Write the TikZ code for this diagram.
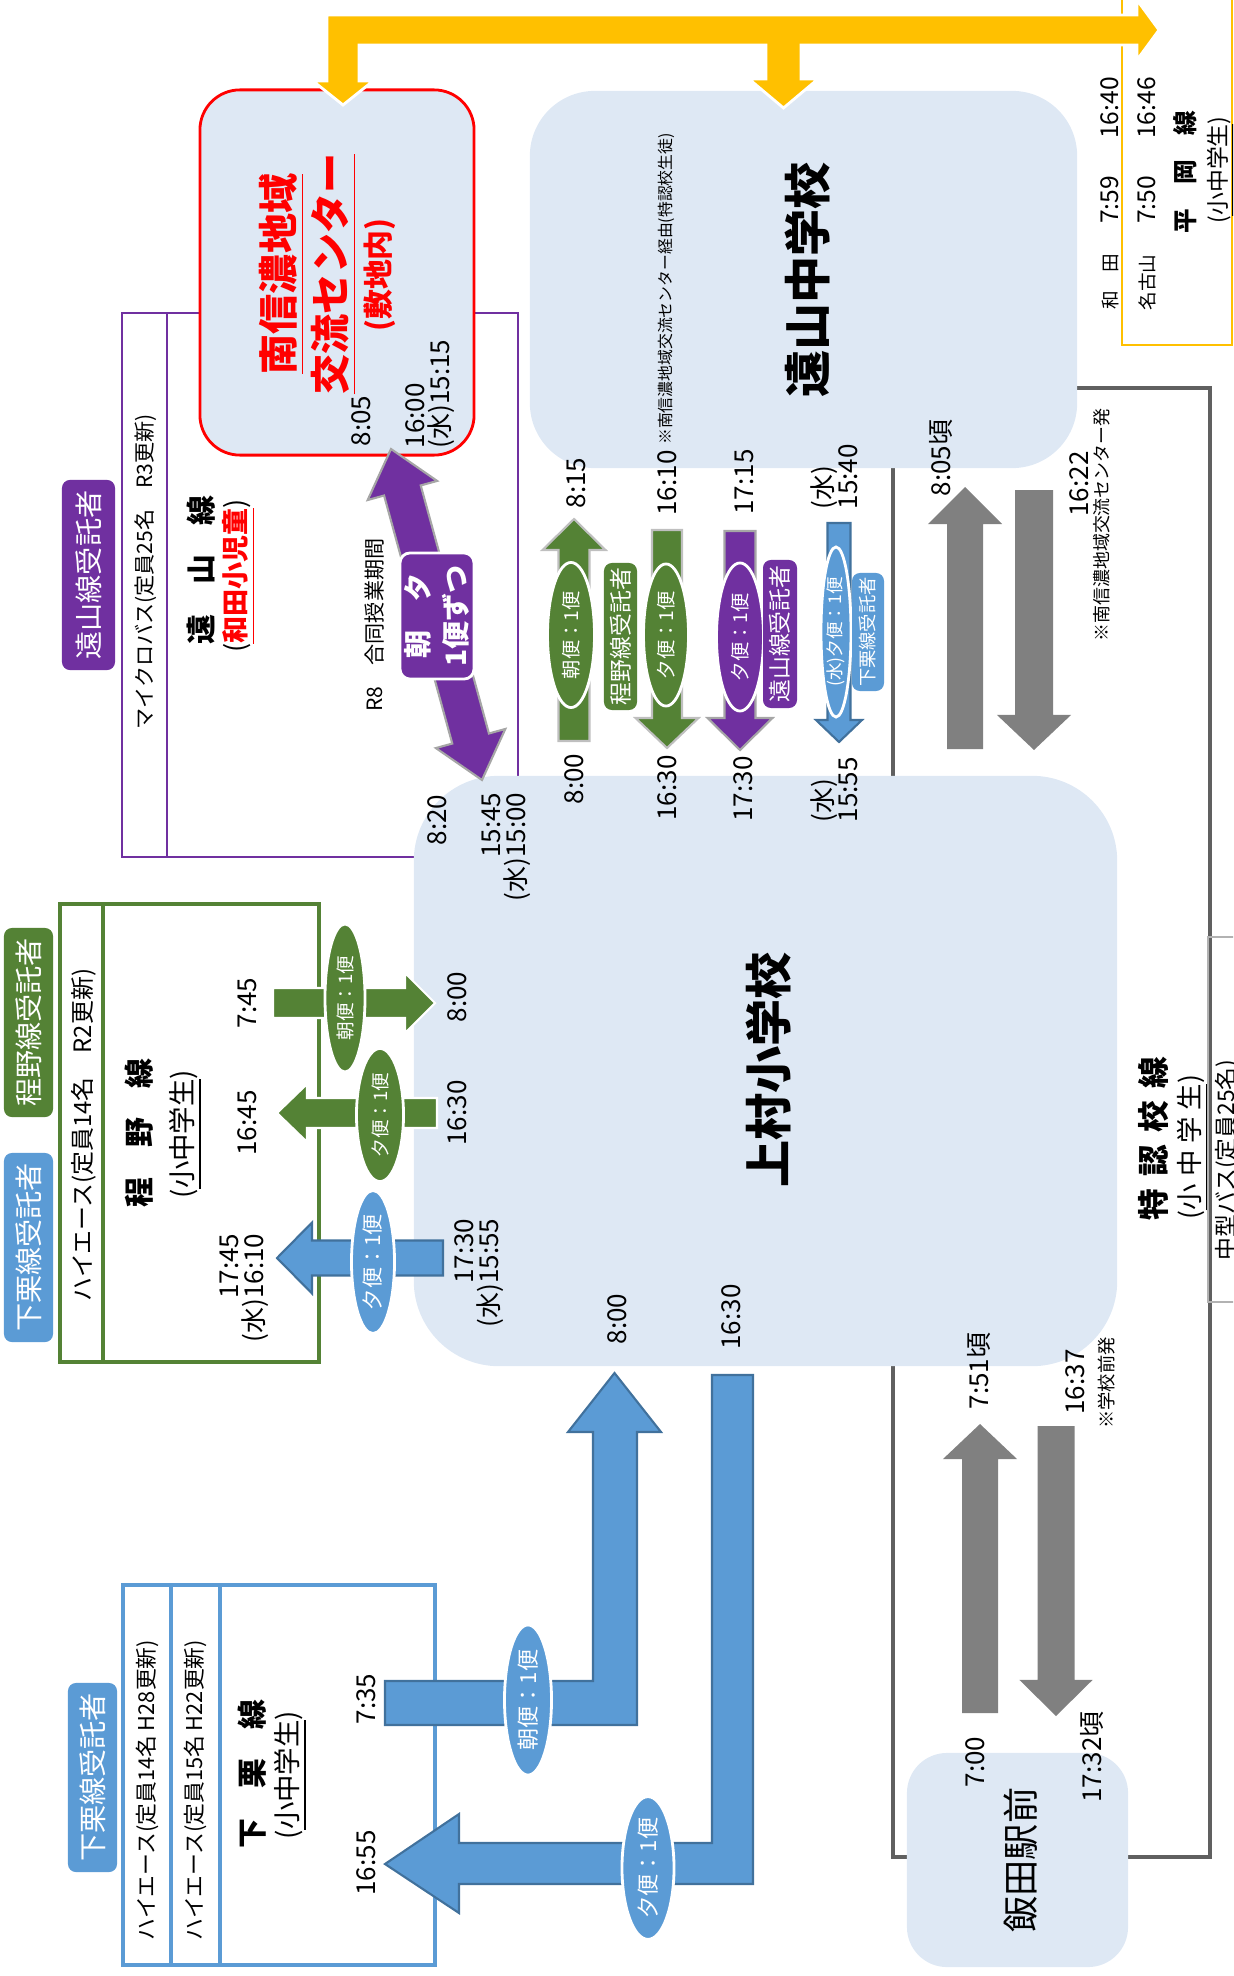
\documentclass[tikz,border=0pt]{standalone}
\usepackage{fontspec}
\setmainfont{Noto Sans CJK JP}
\usetikzlibrary{calc,shapes.geometric}

\definecolor{kfill}{HTML}{DEE8F4}
\definecolor{kgreen}{HTML}{548235}
\definecolor{kpurple}{HTML}{7030A0}
\definecolor{kblue}{HTML}{5B9BD5}
\definecolor{kblueline}{HTML}{41719C}
\definecolor{kyellow}{HTML}{FFC000}
\definecolor{kgray}{HTML}{808080}
\definecolor{kframe}{HTML}{606060}

\newcommand{\tfont}{\fontsize{7.4}{7.1}\selectfont}

% block arrow: style, tail, tip, half shaft, half head, head length
\newcommand{\blockarrow}[6]{%
  \coordinate (ab) at ($(#3)!#6!(#2)$);
  \path[#1] ($(#2)!#4!90:(#3)$) -- ($(ab)!#4!90:(#3)$) -- ($(ab)!#5!90:(#3)$) -- (#3)
    -- ($(ab)!#5!-90:(#3)$) -- ($(ab)!#4!-90:(#3)$) -- ($(#2)!#4!-90:(#3)$) -- cycle;}
\newcommand{\twowayarrow}[6]{%
  \coordinate (ab1) at ($(#2)!#6!(#3)$);
  \coordinate (ab2) at ($(#3)!#6!(#2)$);
  \path[#1] (#2) -- ($(ab1)!#5!90:(#3)$) -- ($(ab1)!#4!90:(#3)$) -- ($(ab2)!#4!90:(#3)$)
    -- ($(ab2)!#5!90:(#3)$) -- (#3) -- ($(ab2)!#5!-90:(#3)$) -- ($(ab2)!#4!-90:(#3)$)
    -- ($(ab1)!#4!-90:(#3)$) -- ($(ab1)!#5!-90:(#3)$) -- cycle;}

\begin{document}
\begin{tikzpicture}[x=0.01cm, y=-0.01cm,
  lbl/.style={rotate=90, inner sep=0pt, align=center, font=\tfont},
  school/.style={fill=kfill, inner sep=0pt},
  tag/.style={rotate=90, inner sep=0pt, rounded corners=0.08cm, text=white},
  trip/.style={ellipse, rotate=90, inner sep=0pt, draw=white, line width=0.8pt, text=white},
  garrowv/.style={fill=kgreen, draw=gray!50, line width=0.6pt},
  garrowh/.style={fill=kgreen, draw=white, line width=0.6pt},
  parrow/.style={fill=kpurple, draw=gray!70, line width=0.6pt},
  barrow/.style={fill=kblue, draw=kblueline, line width=0.6pt},
  grarrow/.style={fill=kgray}]

  \useasboundingbox (0,0) rectangle (1233,1976);
  \clip (0,0) rectangle (1233,1976);

  % --- frames of the bus lines ---
  \draw[kpurple, line width=0.7pt] (122,313) rectangle (518,857);
  \draw[kpurple, line width=0.7pt] (167,313) -- (167,857);
  \draw[kgreen, line width=0.9pt] (60,904) rectangle (319,1362);
  \draw[kgreen, line width=0.9pt] (103,904) -- (103,1362);
  \draw[kblue, line width=0.9pt] (123,1585) rectangle (435,1965);
  \draw[kblue, line width=1.1pt] (171,1585) rectangle (220,1965);
  \draw[kframe, line width=0.9pt] (893,388) rectangle (1210,1857);
  \draw[gray!60, line width=0.6pt] (1208,937) rectangle (1260,1302);
  \draw[kyellow, line width=0.8pt] (1122,-10) rectangle (1232,345);

  % --- schools ---
  \node[school, minimum width=2.74cm, minimum height=3.65cm, rounded corners=0.4cm,
    draw=red, line width=0.8pt] (center) at (337,272.5) {};
  \node[school, minimum width=5.47cm, minimum height=3.77cm, rounded corners=0.65cm]
    (toyamachu) at (803.5,279.5) {};
  \node[school, minimum width=7.03cm, minimum height=5.9cm, rounded corners=0.85cm]
    (kamimura) at (765.5,1071) {};
  \node[school, minimum width=2.21cm, minimum height=2.14cm, rounded corners=0.4cm]
    (iida) at (1017.5,1860) {};

  % --- Hiraoka line (yellow) ---
  \path[fill=kyellow, draw=white, line width=0.8pt] (327,15) -- (1137,15) -- (1137,0)
    -- (1159,30) -- (1137,60) -- (1137,45) -- (801,45) -- (801,79) -- (818,79)
    -- (783.5,108) -- (749,79) -- (766,79) -- (766,45) -- (359,45) -- (359,81)
    -- (373,81) -- (343,105) -- (313,81) -- (327,81) -- cycle;

  % --- Shimoguri line (blue L arrows) ---
  \path[barrow] (385,1681) -- (593,1681) -- (593,1432) -- (568,1432) -- (614.5,1373)
    -- (661,1432) -- (637,1432) -- (637,1725) -- (385,1725) -- cycle;
  \path[barrow] (712,1375) -- (753,1375) -- (753,1884) -- (459,1884) -- (459,1913)
    -- (385,1864) -- (459,1814) -- (459,1843) -- (712,1843) -- cycle;

  % --- straight arrows ---
  \coordinate (g1t) at (574,741);  \coordinate (g1h) at (574,519);
  \coordinate (g2t) at (667,530);  \coordinate (g2h) at (667,748);
  \coordinate (p1t) at (740,531);  \coordinate (p1h) at (740,750);
  \coordinate (b1t) at (839,523);  \coordinate (b1h) at (839,742);
  \coordinate (k1t) at (965,749);  \coordinate (k1h) at (965,487);
  \coordinate (k2t) at (1034,490); \coordinate (k2h) at (1034,750);
  \coordinate (k3t) at (980,1713); \coordinate (k3h) at (980,1424);
  \coordinate (k4t) at (1056,1426); \coordinate (k4h) at (1056,1716);
  \coordinate (g3t) at (273,1003); \coordinate (g3h) at (435,1003);
  \coordinate (g4t) at (437,1113); \coordinate (g4h) at (277,1113);
  \coordinate (b2t) at (443,1258); \coordinate (b2h) at (277,1258);
  \coordinate (pa) at (391,449);   \coordinate (pb) at (482,780);

  \blockarrow{garrowv}{g1t}{g1h}{0.155cm}{0.315cm}{0.31cm}
  \blockarrow{garrowv}{g2t}{g2h}{0.15cm}{0.315cm}{0.30cm}
  \blockarrow{parrow}{p1t}{p1h}{0.155cm}{0.325cm}{0.32cm}
  \blockarrow{barrow}{b1t}{b1h}{0.115cm}{0.23cm}{0.22cm}
  \blockarrow{grarrow}{k1t}{k1h}{0.18cm}{0.37cm}{0.37cm}
  \blockarrow{grarrow}{k2t}{k2h}{0.19cm}{0.37cm}{0.35cm}
  \blockarrow{grarrow}{k3t}{k3h}{0.18cm}{0.37cm}{0.35cm}
  \blockarrow{grarrow}{k4t}{k4h}{0.185cm}{0.365cm}{0.36cm}
  \blockarrow{garrowh}{g3t}{g3h}{0.15cm}{0.30cm}{0.30cm}
  \blockarrow{garrowh}{g4t}{g4h}{0.15cm}{0.29cm}{0.30cm}
  \blockarrow{barrow}{b2t}{b2h}{0.175cm}{0.355cm}{0.35cm}
  \twowayarrow{parrow}{pa}{pb}{0.19cm}{0.36cm}{0.43cm}

  % --- trips ---
  \node[trip, fill=kgreen, minimum width=1.48cm, minimum height=0.40cm,
    font=\fontsize{5.3}{6}\selectfont] (e1) at (345,998) {朝便：1便};
  \node[trip, fill=kgreen, minimum width=1.33cm, minimum height=0.47cm,
    font=\fontsize{5.3}{6}\selectfont] (e2) at (380,1115) {夕便：1便};
  \node[trip, fill=kblue, minimum width=1.43cm, minimum height=0.43cm,
    font=\fontsize{6}{7}\selectfont] (e3) at (373,1262) {夕便：1便};
  \node[trip, fill=kgreen, minimum width=1.45cm, minimum height=0.47cm,
    font=\fontsize{5.5}{6}\selectfont] (e4) at (571,635) {朝便：1便};
  \node[trip, fill=kgreen, minimum width=1.42cm, minimum height=0.45cm,
    font=\fontsize{5.5}{6}\selectfont] (e5) at (666,635) {夕便：1便};
  \node[trip, fill=kpurple, minimum width=1.48cm, minimum height=0.47cm,
    font=\fontsize{5.5}{6}\selectfont] (e6) at (740,637) {夕便：1便};
  \node[trip, fill=kblue, minimum width=1.70cm, minimum height=0.30cm,
    font=\fontsize{5}{6}\selectfont] (e7) at (836,632) {(水)夕便：1便};
  \node[trip, fill=kblue, minimum width=1.50cm, minimum height=0.47cm,
    font=\fontsize{6.3}{7}\selectfont] (e8) at (528,1700) {朝便：1便};
  \node[trip, fill=kblue, minimum width=1.40cm, minimum height=0.52cm,
    font=\fontsize{6.3}{7}\selectfont] (e9) at (648,1868) {夕便：1便};

  % --- contractors ---
  \node[tag, fill=kpurple, minimum width=1.9cm, minimum height=0.53cm,
    font=\fontsize{8}{9}\selectfont] (tag-toyama) at (88.5,575) {遠山線受託者};
  \node[tag, fill=kgreen, minimum width=1.89cm, minimum height=0.49cm,
    font=\fontsize{8}{9}\selectfont] (tag-hodono) at (28.5,1022.5) {程野線受託者};
  \node[tag, fill=kblue, minimum width=1.89cm, minimum height=0.49cm,
    font=\fontsize{8}{9}\selectfont] (tag-shimo) at (28.5,1247.5) {下栗線受託者};
  \node[tag, fill=kblue, minimum width=1.89cm, minimum height=0.49cm,
    font=\fontsize{8}{9}\selectfont] (tag-shimo2) at (92.5,1777.5) {下栗線受託者};
  \node[tag, fill=kgreen, minimum width=1.47cm, minimum height=0.33cm,
    font=\fontsize{6.5}{7}\selectfont] (tag-hodono2) at (620.5,636.5) {程野線受託者};
  \node[tag, fill=kpurple, minimum width=1.48cm, minimum height=0.34cm,
    font=\fontsize{6.5}{7}\selectfont] (tag-toyama2) at (780,634) {遠山線受託者};
  \node[tag, fill=kblue, minimum width=1.18cm, minimum height=0.32cm,
    font=\fontsize{5.2}{6}\selectfont] (tag-shimo3) at (868,632) {下栗線受託者};
  \node[rotate=90, fill=kpurple, draw=white, line width=0.8pt, rounded corners=0.1cm,
    minimum width=1.26cm, minimum height=0.74cm, inner sep=0pt, align=center, text=white,
    font=\fontsize{8}{11}\selectfont\bfseries] (asayu) at (437,616) {朝　夕\\1便ずつ};

  % --- Minami Shinano center ---
  \node[lbl, text=red, font=\fontsize{11.4}{14.8}\selectfont\bfseries] (name-center)
    at (308,274) {\underline{南信濃地域}\\\underline{交流センター}};
  \node[lbl, text=red, font=\fontsize{8.5}{9}\selectfont\bfseries] (site) at (380,275) {(敷地内)};
  \node[lbl] (t805) at (361,421) {8:05};
  \node[lbl, anchor=west, align=left] (t1600) at (430,449) {16:00\\(水)15:15};

  % --- Toyama line ---
  \node[lbl, font=\fontsize{6}{7}\selectfont] (bus-toyama) at (146,572) {マイクロバス(定員25名　R3更新)};
  \node[lbl, font=\fontsize{8.5}{10}\selectfont\bfseries] (name-toyama) at (201,570) {遠　山　線};
  \node[lbl, font=\fontsize{7.7}{9}\selectfont] (kids-toyama) at (239,576)
    {(\textcolor{red}{\bfseries\underline{和田小児童}})};
  \node[lbl, font=\fontsize{6}{7}\selectfont] (r8) at (375,625) {R8　合同授業期間};

  % --- Toyama junior high ---
  \node[lbl, font=\fontsize{13.4}{15}\selectfont\bfseries] (name-toyamachu) at (808,280) {遠山中学校};
  \node[lbl, font=\fontsize{4.5}{5}\selectfont] (note-via) at (666,289) {※南信濃地域交流センター経由(特認校生徒)};
  \node[lbl] (t815) at (576,483) {8:15};
  \node[lbl] (t800a) at (574,779) {8:00};
  \node[lbl] (t1610) at (667,483) {16:10};
  \node[lbl] (t1630a) at (667,788) {16:30};
  \node[lbl] (t1715) at (744,482) {17:15};
  \node[lbl] (t1730a) at (743,789) {17:30};
  \node[lbl, anchor=west, align=left] (t1540) at (834,510) {(水)\\15:40};
  \node[lbl, anchor=west, align=left] (t1555) at (834,823) {(水)\\15:55};
  \node[lbl] (t820) at (437,820) {8:20};
  \node[lbl, anchor=east, align=right] (t1545) at (506.5,792) {15:45\\(水)15:00};

  % --- Hodono line ---
  \node[lbl, font=\fontsize{6.8}{7}\selectfont] (bus-hodono) at (84,1135) {ハイエース(定員14名　R2更新)};
  \node[lbl, font=\fontsize{8.5}{10}\selectfont\bfseries] (name-hodono) at (139,1133) {程　野　線};
  \node[lbl, font=\fontsize{7.8}{9}\selectfont] (kids-hodono) at (186,1134) {(\underline{小中学生})};
  \node[lbl] (t745) at (247,1003) {7:45};
  \node[lbl] (t1645) at (247,1123) {16:45};
  \node[lbl, anchor=east, align=right] (t1745) at (244.5,1233) {17:45\\(水)16:10};
  \node[lbl] (t800b) at (457,997) {8:00};
  \node[lbl] (t1630b) at (457,1113) {16:30};
  \node[lbl, anchor=east, align=right] (t1730b) at (479.5,1218) {17:30\\(水)15:55};

  % --- Shimoguri line ---
  \node[lbl, font=\fontsize{6.2}{7}\selectfont] (bus-shimo1) at (147,1790) {ハイエース(定員14名 H28更新)};
  \node[lbl, font=\fontsize{6.2}{7}\selectfont] (bus-shimo2) at (195,1790) {ハイエース(定員15名 H22更新)};
  \node[lbl, font=\fontsize{8.5}{10}\selectfont\bfseries] (name-shimo) at (252,1774) {下　栗　線};
  \node[lbl, font=\fontsize{7.8}{9}\selectfont] (kids-shimo) at (291,1775) {(\underline{小中学生})};
  \node[lbl] (t735) at (366,1699) {7:35};
  \node[lbl] (t1655) at (366,1863) {16:55};
  \node[lbl] (t800c) at (617,1319) {8:00};
  \node[lbl] (t1630c) at (731,1317) {16:30};

  % --- Kamimura elementary ---
  \node[lbl, font=\fontsize{13.4}{15}\selectfont\bfseries] (name-kamimura) at (769,1070) {上村小学校};

  % --- Tokunin line ---
  \node[lbl] (t805b) at (941,458) {8:05頃};
  \node[lbl] (t1622) at (1079,484) {16:22};
  \node[lbl, font=\fontsize{5.1}{6}\selectfont] (note-from) at (1102,525) {※南信濃地域交流センター発};
  \node[lbl] (t751) at (979,1371) {7:51頃};
  \node[lbl] (t1637) at (1075,1382) {16:37};
  \node[lbl, font=\fontsize{5.2}{6}\selectfont] (note-front) at (1107,1383) {※学校前発};
  \node[lbl] (t700) at (975,1762) {7:00};
  \node[lbl] (t1732) at (1092,1757) {17:32頃};
  \node[lbl, font=\fontsize{9}{10}\selectfont\bfseries] (name-tokunin) at (1153,1139)
    {特\hspace{3.5pt}認\hspace{3.5pt}校\hspace{3.5pt}線};
  \node[lbl, font=\fontsize{7.5}{8}\selectfont] (kids-tokunin) at (1193,1147)
    {(\underline{小\hspace{2pt}中\hspace{2pt}学\hspace{2pt}生})};
  \node[lbl, font=\fontsize{6.5}{7}\selectfont] (bus-tokunin) at (1227,1160) {中型バス(定員25名)};
  \node[lbl, font=\fontsize{10.3}{12}\selectfont] (name-iida) at (1021,1860) {飯田駅前};

  % --- Hiraoka line ---
  \node[lbl, font=\fontsize{5.3}{6}\selectfont] (st-wada) at (1110,282) {和　田};
  \node[lbl, font=\fontsize{7}{8}\selectfont] (t759) at (1110,200) {7:59};
  \node[lbl, font=\fontsize{7}{8}\selectfont] (t1640) at (1110,108) {16:40};
  \node[lbl, font=\fontsize{5.3}{6}\selectfont] (st-nagoyama) at (1147,282.5) {名古山};
  \node[lbl, font=\fontsize{7}{8}\selectfont] (t750) at (1147,200) {7:50};
  \node[lbl, font=\fontsize{7}{8}\selectfont] (t1646) at (1147,108) {16:46};
  \node[lbl, font=\fontsize{7}{8}\selectfont\bfseries] (name-hiraoka) at (1185,172) {平　岡　線};
  \node[lbl, font=\fontsize{6.5}{7}\selectfont] (kids-hiraoka) at (1221,170) {(\underline{小中学生})};

\end{tikzpicture}
\end{document}
